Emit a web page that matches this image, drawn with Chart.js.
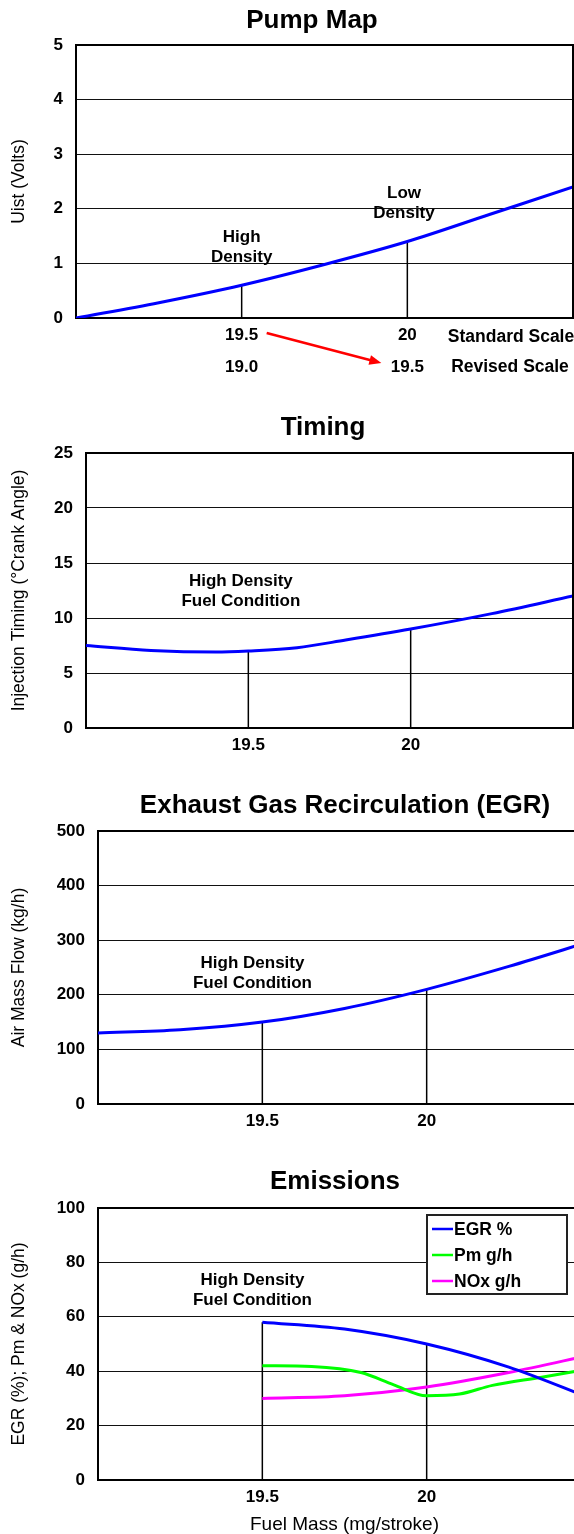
<!DOCTYPE html>
<html>
<head>
<meta charset="utf-8">
<title>Pump Map / Timing / EGR / Emissions</title>
<script src="https://cdn.jsdelivr.net/npm/chart.js@4.4.0/dist/chart.umd.min.js"></script>
<style>
  html, body { margin: 0; padding: 0; background: #fff; overflow: hidden; width: 574px; height: 1534px; }
  canvas { position: absolute; left: 0; }
</style>
</head>
<body>
<canvas id="pump" width="574" height="390" style="top:0"></canvas>
<canvas id="timing" width="574" height="380" style="top:400px"></canvas>
<canvas id="egr" width="600" height="370" style="top:780px"></canvas>
<canvas id="emis" width="600" height="384" style="top:1150px"></canvas>
<script>
// Shared x axis (fuel mass, mg/stroke)
const xTicks = [19.5, 20];
const revisedTicks = ['19.0', '19.5'];
const scaleNames = ['Standard Scale', 'Revised Scale'];

// Pump map: Uist (Volts)
const pumpX = [19, 19.25, 19.5, 19.75, 20, 20.25, 20.5];
const pumpY = [0, 0.28, 0.6, 0.98, 1.4, 1.9, 2.4];
const pumpDrop = [0.6, 1.4];

// Timing: injection timing (deg crank angle)
const timingX = [19, 19.2, 19.4, 19.5, 19.65, 19.8, 20, 20.25, 20.5];
const timingY = [7.5, 7.05, 6.9, 7.0, 7.3, 8.0, 9.0, 10.4, 12.0];
const timingDrop = [7.0, 9.0];

// EGR: air mass flow (kg/h)
const egrX = [19, 19.25, 19.5, 19.75, 20, 20.25, 20.5];
const egrY = [130, 136, 150, 175, 210, 252, 298];
const egrDrop = [150, 210];

// Emissions
const egrPctX = [19.5, 19.75, 20, 20.25, 20.5];
const egrPctY = [58, 55.5, 50, 41.5, 30];
const pmX = [19.5, 19.65, 19.8, 19.9, 20, 20.1, 20.2, 20.35, 20.5];
const pmY = [42, 41.7, 39.5, 35, 31, 31.6, 34.8, 37.8, 41];
const noxX = [19.5, 19.75, 20, 20.25, 20.5];
const noxY = [30, 31, 34.2, 39.5, 46];
const emisDrop = [58, 50];

const FONT = '"Liberation Sans", Arial, sans-serif';
Chart.defaults.font.family = FONT;
Chart.defaults.color = '#000';

function pts(xs, ys) {
  return xs.map((x, i) => ({ x: x, y: ys[i] }));
}

function curve(label, xs, ys, color) {
  return {
    label: label,
    data: pts(xs, ys),
    borderColor: color,
    borderWidth: 3,
    pointRadius: 0,
    cubicInterpolationMode: 'monotone',
    fill: false
  };
}

function drop(x, top) {
  return {
    data: [{ x: x, y: 0 }, { x: x, y: top }],
    borderColor: '#000',
    borderWidth: 1.5,
    pointRadius: 0,
    tension: 0,
    fill: false
  };
}

// draws heading, top/right frame, text notes, legend box and the scale arrow
const paperPlugin = {
  id: 'paper',
  afterDraw(chart, args, opts) {
    const ctx = chart.ctx;
    const a = chart.chartArea;
    const xs = chart.scales.x;
    const ys = chart.scales.y;
    ctx.save();

    ctx.strokeStyle = '#000';
    ctx.lineWidth = 2;
    ctx.beginPath();
    ctx.moveTo(a.left, a.top);
    ctx.lineTo(a.right, a.top);
    ctx.lineTo(a.right, a.bottom);
    ctx.stroke();

    ctx.fillStyle = '#000';
    ctx.textAlign = 'center';
    ctx.textBaseline = 'middle';
    ctx.font = 'bold 26px ' + FONT;
    ctx.fillText(opts.heading, opts.headingX, opts.headingY);

    ctx.font = 'bold 17px ' + FONT;
    (opts.notes || []).forEach(n => {
      const px = xs.getPixelForValue(n.x);
      const py = ys.getPixelForValue(n.y);
      n.lines.forEach((t, i) => ctx.fillText(t, px, py + i * 20));
    });

    if (opts.scaleNames) {
      ctx.font = 'bold 17.5px ' + FONT;
      ctx.fillText(scaleNames[0], a.right - 62, a.bottom + 19);
      ctx.fillText(scaleNames[1], a.right - 63, a.bottom + 49);
      // red arrow from the standard to the revised scale
      const x0 = xs.getPixelForValue(xTicks[0]) + 25, y0 = a.bottom + 15;
      const x1 = xs.getPixelForValue(xTicks[1]) - 26, y1 = a.bottom + 45;
      const ang = Math.atan2(y1 - y0, x1 - x0);
      ctx.strokeStyle = '#ff0000';
      ctx.fillStyle = '#ff0000';
      ctx.lineWidth = 2.5;
      ctx.beginPath();
      ctx.moveTo(x0, y0);
      ctx.lineTo(x1 - 8 * Math.cos(ang), y1 - 8 * Math.sin(ang));
      ctx.stroke();
      ctx.beginPath();
      ctx.moveTo(x1, y1);
      ctx.lineTo(x1 - 12 * Math.cos(ang) + 5 * Math.sin(ang), y1 - 12 * Math.sin(ang) - 5 * Math.cos(ang));
      ctx.lineTo(x1 - 12 * Math.cos(ang) - 5 * Math.sin(ang), y1 - 12 * Math.sin(ang) + 5 * Math.cos(ang));
      ctx.closePath();
      ctx.fill();
    }

    if (opts.legend) {
      const items = chart.data.datasets.filter(d => d.label);
      const bx = a.right - 164, by = a.top + 7, bw = 140, bh = 79;
      ctx.fillStyle = '#fff';
      ctx.fillRect(bx, by, bw, bh);
      ctx.strokeStyle = '#222';
      ctx.lineWidth = 2;
      ctx.strokeRect(bx, by, bw, bh);
      ctx.font = 'bold 17.5px ' + FONT;
      ctx.textAlign = 'left';
      items.forEach((d, i) => {
        const ly = by + 14 + i * 26;
        ctx.strokeStyle = d.borderColor;
        ctx.lineWidth = 2.5;
        ctx.beginPath();
        ctx.moveTo(bx + 5, ly);
        ctx.lineTo(bx + 26, ly);
        ctx.stroke();
        ctx.fillStyle = '#000';
        ctx.fillText(d.label, bx + 27, ly + 1);
      });
    }
    ctx.restore();
  }
};

function makeChart(id, cfg) {
  return new Chart(document.getElementById(id), {
    type: 'line',
    data: { datasets: cfg.datasets },
    plugins: [paperPlugin],
    options: {
      responsive: false,
      animation: false,
      devicePixelRatio: 1,
      layout: { padding: { top: cfg.top, right: cfg.right, left: 0, bottom: 0 } },
      plugins: {
        legend: { display: false },
        tooltip: { enabled: false },
        paper: cfg.paper
      },
      scales: {
        x: {
          type: 'linear',
          min: 19,
          max: 20.5,
          afterBuildTicks: s => { s.ticks = xTicks.map(v => ({ value: v })); },
          afterFit: s => { s.height = cfg.xHeight; },
          grid: { display: false, drawTicks: false },
          border: { display: true, color: '#000', width: 2 },
          ticks: {
            autoSkip: false,
            maxRotation: 0,
            padding: cfg.xPad,
            font: { size: 17, weight: 'bold', lineHeight: cfg.xLine },
            callback: cfg.xLabel || (v => String(v))
          },
          title: cfg.xTitle
            ? { display: true, text: cfg.xTitle, font: { size: 19, lineHeight: 1 }, padding: 0 }
            : { display: false }
        },
        y: {
          min: 0,
          max: cfg.yMax,
          afterFit: s => { s.width = cfg.yWidth; },
          ticks: { stepSize: cfg.yStep, padding: 13, font: { size: 17, weight: 'bold' } },
          grid: { color: '#111', lineWidth: 1, drawTicks: false },
          border: { color: '#000', width: 2 },
          title: { display: true, text: cfg.yTitle, font: { size: 17.5 }, padding: { top: 8.5, bottom: 0 } }
        }
      }
    }
  });
}

makeChart('pump', {
  top: 45, right: 1, xHeight: 72, yWidth: 76, xPad: 1, xLine: 1.88,
  yMax: 5, yStep: 1, yTitle: 'Uist (Volts)',
  xLabel: (v, i) => [String(v), revisedTicks[i]],
  datasets: [
    curve('Uist', pumpX, pumpY, '#0000ff'),
    drop(xTicks[0], pumpDrop[0]),
    drop(xTicks[1], pumpDrop[1])
  ],
  paper: {
    heading: 'Pump Map', headingX: 312, headingY: 21, scaleNames: true,
    notes: [
      { x: 19.5, y: 1.48, lines: ['High', 'Density'] },
      { x: 19.99, y: 2.29, lines: ['Low', 'Density'] }
    ]
  }
});

makeChart('timing', {
  top: 53, right: 1, xHeight: 52, yWidth: 86, xPad: 7, xLine: 1.2,
  yMax: 25, yStep: 5, yTitle: 'Injection Timing (°Crank Angle)',
  datasets: [
    curve('Timing', timingX, timingY, '#0000ff'),
    drop(xTicks[0], timingDrop[0]),
    drop(xTicks[1], timingDrop[1])
  ],
  paper: {
    heading: 'Timing', headingX: 323, headingY: 28,
    notes: [{ x: 19.477, y: 13.3, lines: ['High Density', 'Fuel Condition'] }]
  }
});

makeChart('egr', {
  top: 51, right: 9, xHeight: 46, yWidth: 98, xPad: 7, xLine: 1.2,
  yMax: 500, yStep: 100, yTitle: 'Air Mass Flow (kg/h)',
  datasets: [
    curve('Air Mass Flow', egrX, egrY, '#0000ff'),
    drop(xTicks[0], egrDrop[0]),
    drop(xTicks[1], egrDrop[1])
  ],
  paper: {
    heading: 'Exhaust Gas Recirculation (EGR)', headingX: 345, headingY: 26,
    notes: [{ x: 19.47, y: 258, lines: ['High Density', 'Fuel Condition'] }]
  }
});

makeChart('emis', {
  top: 58, right: 9, xHeight: 54, yWidth: 98, xPad: 7, xLine: 1.2,
  yMax: 100, yStep: 20, yTitle: 'EGR (%); Pm & NOx (g/h)',
  xTitle: 'Fuel Mass (mg/stroke)',
  datasets: [
    curve('EGR %', egrPctX, egrPctY, '#0000ff'),
    curve('Pm g/h', pmX, pmY, '#00ff00'),
    curve('NOx g/h', noxX, noxY, '#ff00ff'),
    drop(xTicks[0], emisDrop[0]),
    drop(xTicks[1], emisDrop[1])
  ],
  paper: {
    heading: 'Emissions', headingX: 335, headingY: 32, legend: true,
    notes: [{ x: 19.47, y: 73.5, lines: ['High Density', 'Fuel Condition'] }]
  }
});
</script>
</body>
</html>
